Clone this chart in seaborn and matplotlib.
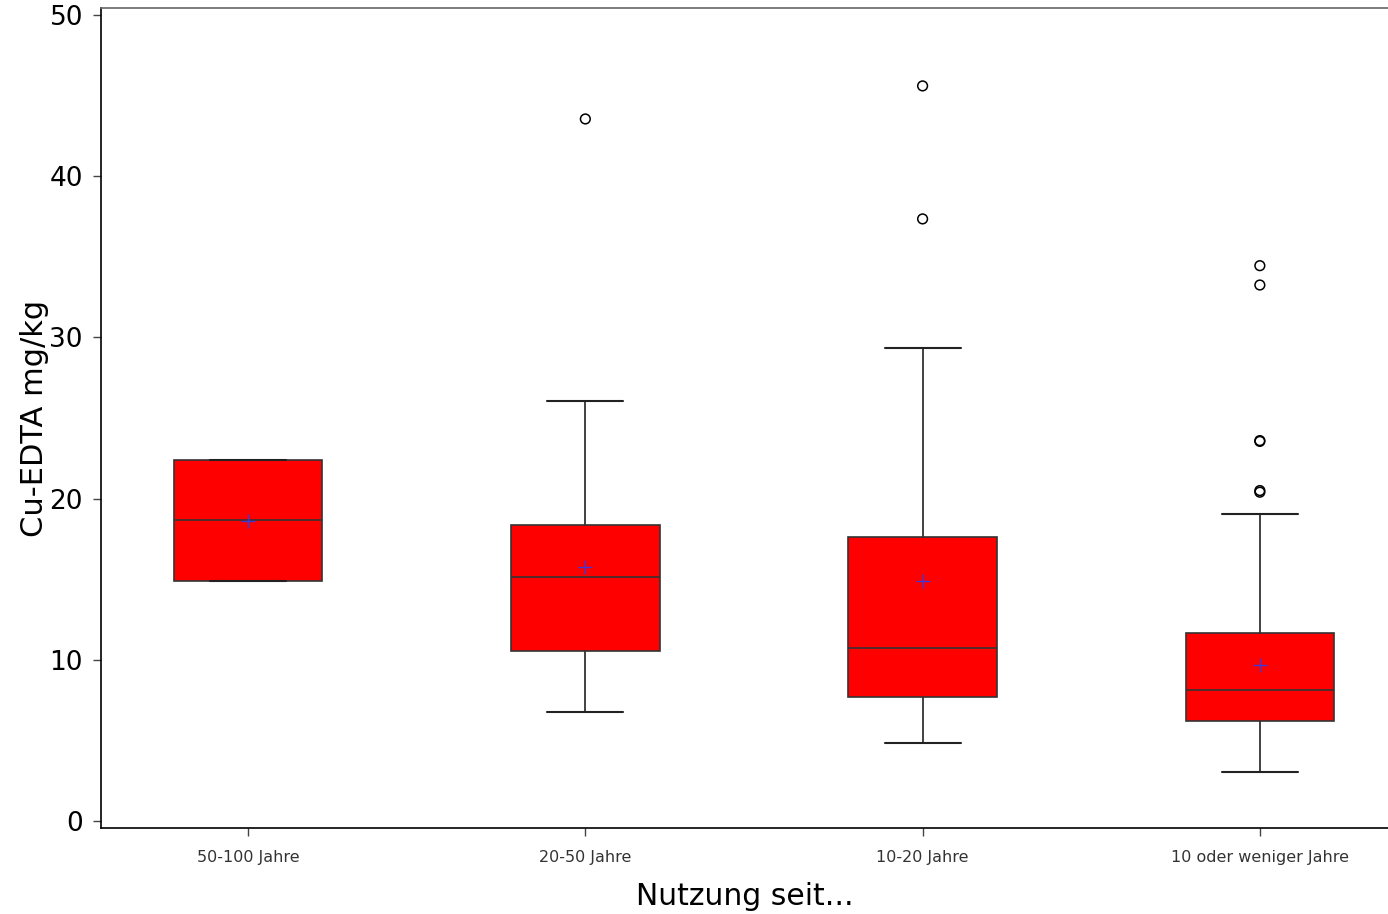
import matplotlib
matplotlib.use("Agg")
import matplotlib.pyplot as plt
import pandas as pd
import seaborn as sns

# Box statistics, one entry per group
categories = ["50-100 Jahre", "20-50 Jahre", "10-20 Jahre", "10 oder weniger Jahre"]
whisker_low = [14.9, 6.75, 4.85, 3.05]
q1 = [14.9, 10.55, 7.7, 6.2]
median = [18.7, 15.15, 10.75, 8.15]
q3 = [22.4, 18.35, 17.6, 11.65]
whisker_high = [22.4, 26.05, 29.35, 19.05]
means = [18.6, 15.75, 14.9, 9.7]

outlier_group = ["20-50 Jahre", "10-20 Jahre", "10-20 Jahre",
                 "10 oder weniger Jahre", "10 oder weniger Jahre",
                 "10 oder weniger Jahre", "10 oder weniger Jahre",
                 "10 oder weniger Jahre", "10 oder weniger Jahre"]
outlier_value = [43.55, 45.6, 37.35, 34.45, 33.25, 23.6, 23.55, 20.5, 20.4]

sns.set_theme(style="white")
plt.rcParams["font.family"] = ["DejaVu Sans"]

fig = plt.figure(figsize=(13.88, 9.14), dpi=100)
ax = fig.add_axes([0.0728, 0.0941, 0.9272, 0.8971])

stats = [
    {"label": c, "whislo": lo, "q1": a, "med": m, "q3": b, "whishi": hi, "fliers": []}
    for c, lo, a, m, b, hi in zip(categories, whisker_low, q1, median, q3, whisker_high)
]
ax.bxp(
    stats,
    positions=range(len(categories)),
    widths=0.44,
    capwidths=0.225,
    patch_artist=True,
    showfliers=False,
    boxprops={"facecolor": "#ff0000", "edgecolor": "#333333", "linewidth": 1.2},
    medianprops={"color": "#333333", "linewidth": 1.2},
    whiskerprops={"color": "#333333", "linewidth": 1.3},
    capprops={"color": "#222222", "linewidth": 1.5},
)

out_df = pd.DataFrame({"group": outlier_group, "value": outlier_value})
sns.stripplot(data=out_df, x="group", y="value", order=categories, jitter=False,
              marker="o", size=7, facecolors="none", edgecolor="black",
              linewidth=1.1, ax=ax)

mean_df = pd.DataFrame({"group": categories, "value": means})
sns.stripplot(data=mean_df, x="group", y="value", order=categories, jitter=False,
              marker="+", size=10, color="#3a3adf", edgecolor="#3a3adf",
              linewidth=1.0, ax=ax)

ax.set_xlim(-0.436, 3.38)
ax.set_ylim(-0.43, 50.43)
ax.set_yticks([0, 10, 20, 30, 40, 50])
ax.set_xticks(range(len(categories)))
ax.set_xticklabels(categories, fontsize=11.5, color="#333333")
ax.tick_params(axis="y", left=True, labelsize=19, length=6, width=1,
               color="#444444", labelcolor="black", pad=7)
ax.tick_params(axis="x", bottom=True, length=6, width=1, color="#444444", pad=10)

ax.spines["right"].set_visible(False)
ax.spines["top"].set_color("#666666")
ax.spines["left"].set_color("black")
ax.spines["bottom"].set_color("black")
for s in ["top", "left", "bottom"]:
    ax.spines[s].set_linewidth(1.2)

ax.set_xlabel("Nutzung seit...", fontsize=21.5, color="black", labelpad=12)
ax.set_ylabel("Cu-EDTA mg/kg", fontsize=22, color="black", labelpad=0)

fig.savefig("out.png", dpi=100)
